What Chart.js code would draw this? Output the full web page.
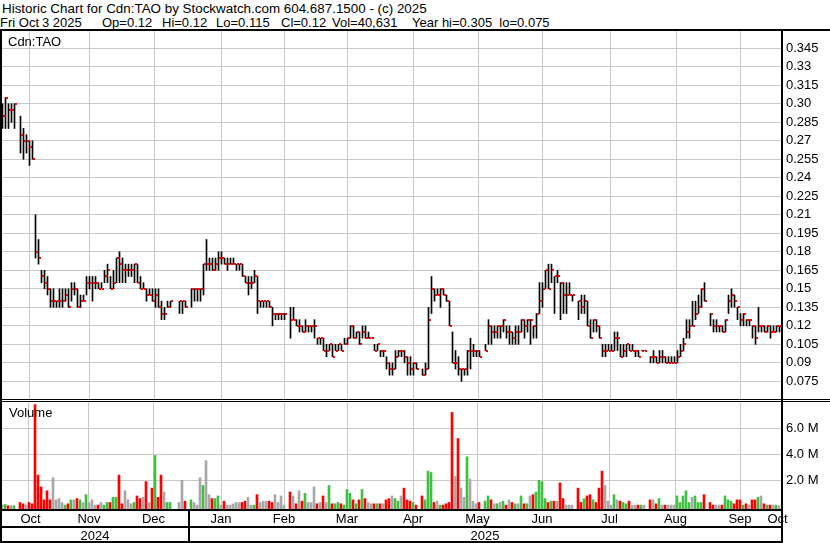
<!DOCTYPE html>
<html lang="en">
<head>
<meta charset="UTF-8">
<title>Historic Chart for Cdn:TAO</title>
<script src="https://cdn.jsdelivr.net/npm/chart.js"></script>
<style>
    body { margin: 0; background: #fff; font-family: 'Liberation Sans', Arial, sans-serif; }
    #wrap { position: relative; width: 830px; height: 543px; overflow: hidden; background: #fff; }
    .hdr { position: absolute; font-size: 13px; line-height: 15px; white-space: pre; color: #000; }
    .lbl { position: absolute; font-size: 13px; line-height: 15px; color: #000; }
    .ln { position: absolute; background: #000; z-index: 5; }
    canvas { position: absolute; left: 0; }
</style>
</head>
<body>
<div id="wrap">
    <div class="hdr" style="left:2px; top:1px; font-size:13.4px">Historic Chart for Cdn:TAO by Stockwatch.com 604.687.1500 - (c) 2025</div>
    <div class="hdr" style="left:0px; top:15px">Fri Oct</div>
    <div class="hdr" style="left:42px; top:15px">3 2025</div>
    <div class="hdr" style="left:102px; top:15px">Op=0.12</div>
    <div class="hdr" style="left:162px; top:15px">Hi=0.12</div>
    <div class="hdr" style="left:216px; top:15px">Lo=0.115</div>
    <div class="hdr" style="left:281px; top:15px">Cl=0.12</div>
    <div class="hdr" style="left:332px; top:15px">Vol=40,631</div>
    <div class="hdr" style="left:412px; top:15px">Year hi=0.305&#160;&#160;lo=0.075</div>

    <canvas id="priceChart" width="830" height="368" style="top:31px"></canvas>
    <canvas id="volChart" width="830" height="141" style="top:402px"></canvas>

    <div class="lbl" style="left:8px; top:34px; z-index:6">Cdn:TAO</div>
    <div class="lbl" style="left:9px; top:405px; z-index:6">Volume</div>

    <!-- frame -->
    <div class="ln" style="left:0; top:29px; width:830px; height:2px"></div>
    <div class="ln" style="left:0; top:29px; width:2px; height:514px"></div>
    <div class="ln" style="left:781px; top:29px; width:2px; height:514px"></div>
    <div class="ln" style="left:0; top:399px; width:830px; height:1px"></div>
    <div class="ln" style="left:0; top:401px; width:830px; height:1px"></div>
    <div class="ln" style="left:0; top:509px; width:783px; height:2px"></div>
    <div class="ln" style="left:0; top:526px; width:783px; height:2px"></div>
    <div class="ln" style="left:0; top:541px; width:783px; height:2px"></div>
</div>

<script>
    // one slot per weekday, Mon Oct 7 2024 .. Fri Oct 3 2025 (null = market holiday)
    const hi = [
        0.30, 0.305, 0.30, 0.30, 0.30, null, 0.29, 0.28, 0.275, 0.27,
        0.27, 0.21, 0.19, 0.165, 0.165, 0.16, 0.15, 0.15, 0.14, 0.15,
        0.15, 0.15, 0.15, 0.155, 0.155, 0.15, 0.145, 0.145, 0.16, 0.16,
        0.16, 0.16, 0.155, 0.155, 0.165, 0.17, 0.16, 0.165, 0.175, 0.18,
        0.175, 0.17, 0.17, 0.17, 0.17, 0.17, 0.16, 0.155, 0.15, 0.15,
        0.15, 0.15, 0.15, 0.14, 0.135, 0.14, 0.14, null, null, 0.14,
        0.14, 0.14, null, 0.15, 0.15, 0.15, 0.15, 0.17, 0.19, 0.175,
        0.175, 0.175, 0.18, 0.18, 0.175, 0.175, 0.175, 0.175, 0.17, 0.17,
        0.17, 0.16, 0.16, 0.16, 0.165, 0.16, 0.14, 0.14, 0.14, 0.14,
        0.135, 0.13, 0.13, 0.13, 0.13, null, 0.135, 0.135, 0.125, 0.125,
        0.12, 0.125, 0.12, 0.12, 0.125, 0.11, 0.11, 0.11, 0.105, 0.105,
        0.105, 0.105, 0.105, 0.105, 0.11, 0.11, 0.12, 0.12, 0.115, 0.115,
        0.12, 0.12, 0.115, 0.11, 0.105, 0.105, 0.10, 0.10, 0.095, 0.09,
        0.09, 0.10, 0.10, 0.10, 0.10, 0.095, 0.095, 0.09, 0.09, null,
        0.085, 0.09, 0.135, 0.16, 0.15, 0.15, 0.15, 0.15, 0.145, 0.14,
        0.115, 0.10, 0.095, 0.085, 0.085, 0.10, 0.11, 0.105, 0.10, 0.10,
        null, 0.105, 0.125, 0.12, 0.12, 0.12, 0.12, 0.125, 0.12, 0.12,
        0.115, 0.12, 0.12, 0.125, 0.125, 0.125, 0.125, 0.12, 0.13, 0.155,
        0.155, 0.165, 0.17, 0.17, 0.16, 0.165, 0.155, 0.155, 0.155, 0.155,
        0.145, null, 0.14, 0.145, 0.145, 0.14, 0.125, 0.125, 0.125, 0.12,
        0.105, 0.105, 0.105, 0.105, 0.115, 0.115, 0.105, 0.105, 0.105, 0.105,
        0.105, 0.10, 0.10, 0.10, 0.10, null, 0.095, 0.10, 0.095, 0.10,
        0.10, 0.095, 0.095, 0.095, 0.095, 0.10, 0.105, 0.11, 0.125, 0.125,
        0.14, 0.14, 0.145, 0.15, 0.155, null, 0.13, 0.125, 0.125, 0.12,
        0.12, 0.125, 0.145, 0.15, 0.145, 0.135, 0.13, 0.13, 0.125, 0.125,
        0.12, 0.12, 0.135, 0.12, 0.12, 0.12, 0.12, 0.12, 0.12, 0.12
    ];
    const lo = [
        0.28, 0.28, 0.28, 0.285, 0.28, null, 0.26, 0.255, 0.26, 0.25,
        0.255, 0.175, 0.17, 0.155, 0.15, 0.145, 0.135, 0.135, 0.135, 0.135,
        0.135, 0.14, 0.135, 0.14, 0.145, 0.135, 0.135, 0.14, 0.145, 0.15,
        0.14, 0.15, 0.15, 0.15, 0.155, 0.155, 0.15, 0.15, 0.155, 0.155,
        0.155, 0.155, 0.16, 0.16, 0.155, 0.155, 0.15, 0.15, 0.14, 0.145,
        0.14, 0.135, 0.135, 0.125, 0.125, 0.135, 0.135, null, null, 0.13,
        0.13, 0.135, null, 0.135, 0.14, 0.14, 0.14, 0.145, 0.165, 0.165,
        0.165, 0.165, 0.165, 0.17, 0.17, 0.165, 0.17, 0.17, 0.165, 0.165,
        0.16, 0.155, 0.145, 0.15, 0.155, 0.13, 0.135, 0.135, 0.135, 0.135,
        0.12, 0.125, 0.125, 0.125, 0.125, null, 0.11, 0.125, 0.12, 0.115,
        0.115, 0.115, 0.115, 0.115, 0.11, 0.105, 0.105, 0.10, 0.095, 0.10,
        0.095, 0.10, 0.10, 0.10, 0.105, 0.105, 0.11, 0.11, 0.11, 0.105,
        0.11, 0.11, 0.11, 0.11, 0.10, 0.10, 0.095, 0.095, 0.085, 0.08,
        0.08, 0.085, 0.095, 0.095, 0.09, 0.08, 0.08, 0.08, 0.085, null,
        0.08, 0.08, 0.085, 0.13, 0.14, 0.145, 0.135, 0.145, 0.14, 0.12,
        0.09, 0.085, 0.08, 0.075, 0.08, 0.08, 0.085, 0.095, 0.095, 0.095,
        null, 0.10, 0.105, 0.105, 0.11, 0.11, 0.11, 0.115, 0.11, 0.105,
        0.105, 0.105, 0.105, 0.115, 0.11, 0.115, 0.105, 0.11, 0.11, 0.13,
        0.135, 0.15, 0.15, 0.155, 0.13, 0.155, 0.125, 0.13, 0.13, 0.145,
        0.14, null, 0.125, 0.13, 0.13, 0.12, 0.11, 0.115, 0.115, 0.11,
        0.095, 0.095, 0.10, 0.10, 0.10, 0.10, 0.095, 0.095, 0.095, 0.10,
        0.10, 0.095, 0.095, 0.10, 0.10, null, 0.09, 0.09, 0.09, 0.09,
        0.09, 0.09, 0.09, 0.09, 0.09, 0.09, 0.095, 0.10, 0.11, 0.11,
        0.12, 0.125, 0.13, 0.135, 0.14, null, 0.12, 0.115, 0.115, 0.115,
        0.115, 0.115, 0.13, 0.135, 0.135, 0.125, 0.12, 0.12, 0.12, 0.12,
        0.11, 0.105, 0.115, 0.115, 0.115, 0.115, 0.11, 0.115, 0.115, 0.115
    ];
    const cl = [
        0.29, 0.305, 0.295, 0.295, 0.30, null, 0.275, 0.27, 0.27, 0.265,
        0.255, 0.18, 0.175, 0.16, 0.155, 0.15, 0.14, 0.14, 0.14, 0.14,
        0.14, 0.145, 0.135, 0.15, 0.15, 0.135, 0.14, 0.14, 0.155, 0.155,
        0.155, 0.155, 0.15, 0.15, 0.16, 0.165, 0.15, 0.155, 0.175, 0.17,
        0.165, 0.165, 0.165, 0.165, 0.17, 0.155, 0.15, 0.15, 0.145, 0.145,
        0.14, 0.145, 0.135, 0.13, 0.13, 0.135, 0.14, null, null, 0.14,
        0.14, 0.135, null, 0.15, 0.15, 0.15, 0.15, 0.17, 0.17, 0.17,
        0.165, 0.17, 0.175, 0.175, 0.17, 0.17, 0.17, 0.17, 0.17, 0.17,
        0.16, 0.155, 0.155, 0.155, 0.16, 0.14, 0.14, 0.14, 0.14, 0.135,
        0.13, 0.13, 0.13, 0.13, 0.13, null, 0.125, 0.125, 0.12, 0.12,
        0.115, 0.12, 0.12, 0.12, 0.12, 0.11, 0.11, 0.10, 0.10, 0.105,
        0.095, 0.10, 0.105, 0.10, 0.105, 0.11, 0.12, 0.11, 0.115, 0.105,
        0.115, 0.11, 0.11, 0.11, 0.10, 0.105, 0.10, 0.10, 0.09, 0.085,
        0.085, 0.095, 0.10, 0.10, 0.095, 0.09, 0.085, 0.09, 0.085, null,
        0.08, 0.085, 0.125, 0.15, 0.145, 0.145, 0.15, 0.145, 0.14, 0.12,
        0.09, 0.09, 0.085, 0.085, 0.085, 0.10, 0.10, 0.10, 0.10, 0.095,
        null, 0.10, 0.12, 0.115, 0.115, 0.12, 0.12, 0.125, 0.115, 0.115,
        0.11, 0.115, 0.115, 0.125, 0.12, 0.125, 0.125, 0.12, 0.13, 0.14,
        0.15, 0.165, 0.15, 0.165, 0.16, 0.16, 0.155, 0.145, 0.145, 0.145,
        0.145, null, 0.14, 0.135, 0.14, 0.12, 0.11, 0.125, 0.12, 0.11,
        0.10, 0.10, 0.10, 0.10, 0.11, 0.11, 0.095, 0.10, 0.105, 0.10,
        0.10, 0.10, 0.095, 0.10, 0.10, null, 0.095, 0.095, 0.09, 0.095,
        0.095, 0.09, 0.09, 0.09, 0.09, 0.095, 0.10, 0.105, 0.115, 0.12,
        0.12, 0.13, 0.135, 0.15, 0.14, null, 0.13, 0.12, 0.12, 0.12,
        0.115, 0.125, 0.14, 0.145, 0.14, 0.135, 0.125, 0.13, 0.125, 0.125,
        0.12, 0.11, 0.12, 0.12, 0.115, 0.12, 0.115, 0.115, 0.12, 0.12
    ];
    // volume in millions of shares
    const vol = [
        0.1, 0.15, 0.05, 0.05, 0.05, null, 0.3, 0.2, 0.1, 0.3,
        0.2, 7.8, 2.4, 1.5, 0.5, 1.2, 0.5, 2.2, 0.5, 0.6,
        0.3, 0.1, 0.2, 0.5, 0.5, 0.6, 0.5, 0.3, 0.9, 0.3,
        0.5, 0.1, 0.1, 0.3, 0.1, 0.3, 0.3, 0.7, 0.7, 2.4,
        0.2, 1.2, 0.5, 0.2, 0.3, 0.8, 0.6, 0.7, 1.9, 0.3,
        1.4, 3.9, 0.7, 2.4, 1.1, 0.3, 0.3, null, null, 0.3,
        2.0, 0.4, null, 0.5, 0.3, 0.1, 2.2, 1.6, 3.5, 0.9,
        0.6, 0.6, 0.8, 0.1, 0.4, 0.1, 0.1, 0.2, 0.3, 0.3,
        0.3, 0.4, 0.7, 0.1, 0.1, 0.9, 0.3, 0.4, 0.4, 0.4,
        0.3, 0.9, 0.3, 0.8, 0.1, null, 1.1, 0.8, 0.2, 1.2,
        0.4, 1.0, 0.3, 0.3, 1.5, 0.2, 0.3, 0.8, 0.3, 1.6,
        0.2, 0.2, 0.3, 0.2, 0.1, 1.3, 1.0, 0.5, 0.2, 0.5,
        1.3, 0.6, 0.3, 0.2, 0.2, 0.2, 0.2, 0.2, 0.5, 0.6,
        0.8, 0.6, 0.4, 0.8, 1.4, 0.5, 0.4, 0.3, 0.1, null,
        0.8, 0.5, 2.7, 2.6, 0.3, 0.4, 0.1, 0.1, 0.2, 0.3,
        7.2, 2.3, 5.2, 1.4, 0.7, 3.8, 2.1, 0.4, 0.2, 0.3,
        null, 0.4, 0.8, 0.5, 0.2, 0.2, 0.3, 0.4, 0.1, 0.5,
        0.3, 0.2, 0.2, 0.8, 0.2, 0.2, 0.8, 0.9, 1.1, 2.0,
        1.9, 0.6, 0.3, 0.4, 0.4, 0.4, 1.8, 0.6, 0.1, 0.1,
        0.1, null, 1.4, 0.3, 0.6, 0.8, 0.9, 0.5, 0.3, 1.4,
        2.7, 1.6, 0.4, 0.1, 0.9, 0.5, 0.4, 0.3, 0.2, 0.4,
        0.1, 0.1, 0.1, 0.1, 0.1, null, 0.5, 0.5, 0.2, 0.6,
        0.1, 0.1, 0.1, 0.1, 0.1, 0.8, 0.3, 0.8, 1.2, 0.3,
        0.7, 0.8, 0.3, 0.3, 0.9, null, 0.3, 0.1, 0.1, 0.1,
        0.1, 0.8, 0.5, 0.4, 0.2, 0.5, 0.5, 0.1, 0.2, 0.1,
        0.5, 0.5, 0.7, 0.8, 0.2, 0.1, 0.1, 0.1, 0.1, 0.04
    ];

    // calendar: slot where each month / year begins
    const monthNames = ['Oct', 'Nov', 'Dec', 'Jan', 'Feb', 'Mar', 'Apr', 'May', 'Jun', 'Jul', 'Aug', 'Sep', 'Oct'];
    const monthStarts = [0, 19, 39, 62, 84, 104, 126, 148, 169, 191, 214, 235, 257];
    const yearNames = ['2024', '2025'];
    const yearStarts = [0, 62];
    const slotCount = 260;

    const priceTicks = [0.075, 0.09, 0.105, 0.12, 0.135, 0.15, 0.165, 0.18, 0.195, 0.21,
                        0.225, 0.24, 0.255, 0.27, 0.285, 0.30, 0.315, 0.33, 0.345];
    const volTicks = [2, 4, 6];

    const GRID = '#c8c8c8';
    const RED = '#ff0000';
    const GREEN = '#40c040';
    const GRAY = '#a8a8a8';

    Chart.defaults.font.family = "'Liberation Sans', Arial, sans-serif";
    Chart.defaults.font.size = 13;
    Chart.defaults.color = '#000';

    // plot is 782px wide, 3px per weekday slot
    const SLOT_PX = 3;
    const PLOT_W = 782;
    const P_MIN = 0.0607, P_MAX = 0.3590;
    const V_MIN = -0.2, V_MAX = 8.0;

    function midpoints(starts) {
        return starts.map((s, k) => (s + (k + 1 < starts.length ? starts[k + 1] : slotCount)) / 2);
    }

    function fmtPrice(v) {
        let s = v.toFixed(3);
        if (s.endsWith('0')) s = s.slice(0, -1);
        return s;
    }

    function noPad(s) {
        s.paddingTop = 0; s.paddingBottom = 0; s.paddingLeft = 0; s.paddingRight = 0;
    }

    function slotAxis(xMin, fitHeight, weight, extra) {
        return Object.assign({
            type: 'linear',
            position: 'bottom',
            min: xMin,
            max: xMin + PLOT_W / SLOT_PX,
            offset: false,
            weight: weight,
            border: { display: false },
            grid: { color: GRID, drawTicks: false },
            ticks: { display: false },
            afterBuildTicks: s => { s.ticks = monthStarts.slice(1).map(v => ({ value: v })); },
            afterFit: s => { s.height = fitHeight; noPad(s); }
        }, extra || {});
    }

    function labelAxis(xMin, names, starts, fitHeight, pad, weight) {
        return slotAxis(xMin, fitHeight, weight, {
            grid: { display: false, drawTicks: false },
            ticks: {
                display: true, autoSkip: false, maxRotation: 0, minRotation: 0, padding: pad,
                color: '#000', callback: (v, i) => names[i]
            },
            afterBuildTicks: s => { s.ticks = midpoints(starts).map(v => ({ value: v })); }
        });
    }

    // high-low bars
    const rangeBars = [];
    hi.forEach((h, i) => { if (h !== null) rangeBars.push({ x: i, y: [lo[i], h] }); });

    // volume bars coloured by close vs previous close
    const volBars = [];
    const volColors = [];
    let prevClose = null;
    vol.forEach((v, i) => {
        if (v === null) return;
        const c = cl[i];
        volBars.push({ x: i, y: v });
        if (prevClose === null || c === prevClose) volColors.push(GRAY);
        else volColors.push(c > prevClose ? GREEN : RED);
        prevClose = c;
    });

    // close ticks: small red mark on the right of each bar
    const closeTicks = {
        id: 'closeTicks',
        afterDatasetsDraw(chart) {
            const { ctx, scales: { x, y } } = chart;
            ctx.save();
            ctx.fillStyle = RED;
            cl.forEach((c, i) => {
                if (c === null) return;
                const px = Math.floor(x.getPixelForValue(i));
                const py = Math.round(y.getPixelForValue(c));
                ctx.fillRect(px + 1, py - 1, 2, 2);
            });
            ctx.restore();
        }
    };

    // black separator between years in the date rows
    const yearSep = {
        id: 'yearSep',
        afterDraw(chart) {
            const { ctx, chartArea, scales: { x } } = chart;
            ctx.save();
            ctx.fillStyle = '#000';
            yearStarts.slice(1).forEach(v => {
                const px = Math.round(x.getPixelForValue(v));
                ctx.fillRect(px, chartArea.bottom, 2, chart.height - chartArea.bottom);
            });
            ctx.restore();
        }
    };

    new Chart(document.getElementById('priceChart'), {
        type: 'bar',
        data: {
            datasets: [{
                data: rangeBars,
                backgroundColor: '#000',
                borderWidth: 0,
                barThickness: 1,
                grouped: false
            }]
        },
        options: {
            responsive: false,
            animation: false,
            layout: { padding: 0 },
            plugins: { legend: { display: false }, tooltip: { enabled: false } },
            scales: {
                x: slotAxis(-2.5 / SLOT_PX, 0, 0),
                y: {
                    position: 'right',
                    min: P_MIN,
                    max: P_MAX,
                    border: { display: false },
                    grid: { color: GRID, drawTicks: false },
                    ticks: { autoSkip: false, padding: 4, color: '#000', callback: v => fmtPrice(v) },
                    afterBuildTicks: s => { s.ticks = priceTicks.map(v => ({ value: v })); },
                    afterFit: s => { s.width = 830 - PLOT_W; noPad(s); }
                }
            }
        },
        plugins: [closeTicks]
    });

    new Chart(document.getElementById('volChart'), {
        type: 'bar',
        data: {
            datasets: [{
                data: volBars,
                backgroundColor: volColors,
                borderWidth: 0,
                barThickness: 2,
                grouped: false,
                base: V_MIN
            }]
        },
        options: {
            responsive: false,
            animation: false,
            layout: { padding: 0 },
            plugins: { legend: { display: false }, tooltip: { enabled: false } },
            scales: {
                x: slotAxis(-2 / SLOT_PX, 0, 0),
                months: labelAxis(-2 / SLOT_PX, monthNames, monthStarts, 18, 3, 1),
                years: labelAxis(-2 / SLOT_PX, yearNames, yearStarts, 16, 2, 2),
                y: {
                    position: 'right',
                    min: V_MIN,
                    max: V_MAX,
                    border: { display: false },
                    grid: { color: GRID, drawTicks: false },
                    ticks: { autoSkip: false, padding: 4, color: '#000', callback: v => v.toFixed(1) + ' M' },
                    afterBuildTicks: s => { s.ticks = volTicks.map(v => ({ value: v })); },
                    afterFit: s => { s.width = 830 - PLOT_W; noPad(s); }
                }
            }
        },
        plugins: [yearSep]
    });
</script>
</body>
</html>
